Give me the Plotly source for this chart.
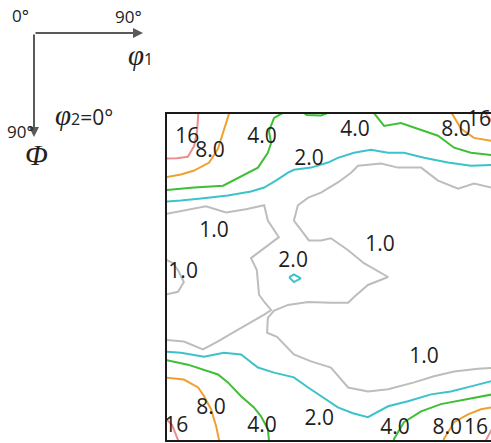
import plotly.graph_objects as go

# ODF section at phi2 = 0 deg: iso-intensity lines, (phi1, Phi) in degrees
levels = [1.0, 2.0, 4.0, 8.0, 16]
level_colors = ["#bdbdbd", "#3cc3c9", "#3fbf36", "#f0a030", "#ec8c8c"]

lvl16_top_left = [(8.6, -1.0), (8.2, 4.7), (7.4, 8.8), (5.7, 11.8), (2.7, 12.2), (-1.0, 12.3)]
lvl16_top_right = [(86.4, -0.8), (88.4, 1.9), (90.3, 3.8)]
lvl16_bottom_left = [(-1.0, 83.4), (1.4, 85.9), (3.0, 90.0), (3.2, 92.0)]
lvl16_bottom_right = [(86.8, 92.0), (87.0, 90.0), (88.6, 87.0), (90.3, 84.8)]

lvl8_top_left = [(17.2, -1.0), (15.5, 4.7), (13.9, 9.6), (11.5, 13.4), (7.4, 15.6), (3.8, 16.7), (-1.0, 17.6)]
lvl8_top_right = [(77.2, -1.0), (80.2, 4.1), (83.7, 6.6), (88.4, 7.4), (90.3, 7.7)]
lvl8_bottom_left = [(-1.0, 72.7), (4.6, 73.3), (8.5, 75.5), (10.1, 77.9), (12.0, 81.5),
                    (13.4, 86.2), (14.2, 90.0), (14.2, 92.0)]
lvl8_bottom_right = [(75.5, 92.0), (75.5, 89.7), (78.3, 85.1), (82.1, 82.9), (85.6, 81.5),
                     (88.4, 81.0), (90.3, 80.7)]

lvl4_top = [(-1.0, 21.1), (7.4, 20.3), (15.3, 19.8), (20.7, 17.0), (24.8, 14.8), (27.5, 10.7),
            (28.4, 8.0), (27.8, 4.7), (29.2, 1.1), (31.6, -0.3), (36.5, -0.8), (38.2, 0.3),
            (42.0, 0.4), (43.9, -0.3), (50.2, -0.8), (56.4, -0.3), (59.2, 3.3), (63.8, 2.5),
            (68.5, 4.1), (73.9, 6.0), (78.3, 9.3), (82.9, 10.7), (88.4, 11.3), (90.3, 11.6)]
lvl4_bottom_left = [(-1.0, 67.8), (5.7, 69.2), (13.9, 71.9), (16.6, 74.1), (20.2, 77.9),
                    (23.7, 81.0), (25.6, 83.4), (27.5, 87.0), (27.8, 90.0), (27.8, 92.0)]
lvl4_bottom_right = [(61.9, 92.0), (61.9, 89.7), (64.6, 85.1), (69.3, 82.1), (74.7, 80.1),
                     (81.0, 78.8), (88.4, 77.4), (90.3, 77.1)]

lvl2_top = [(-1.0, 24.2), (3.8, 23.9), (9.3, 23.3), (16.6, 22.5), (22.9, 21.4), (26.5, 20.3),
            (29.7, 18.4), (33.0, 16.2), (34.6, 15.4), (39.3, 14.8), (43.9, 13.4), (46.6, 12.1),
            (51.0, 10.7), (55.6, 9.9), (60.3, 10.7), (64.6, 10.7), (70.1, 12.1), (76.6, 13.4),
            (82.9, 14.3), (88.4, 14.0), (90.3, 14.0)]
lvl2_island = [(33.3, 45.1), (34.6, 44.3), (36.5, 45.4), (34.6, 46.4), (33.3, 45.1)]
lvl2_bottom = [(-1.0, 65.6), (3.8, 65.9), (10.1, 67.0), (15.5, 65.9), (20.2, 66.4), (24.8, 70.0),
               (29.2, 71.4), (34.6, 72.7), (38.5, 75.5), (42.0, 77.9), (46.6, 81.0), (50.7, 82.6),
               (54.8, 83.7), (60.3, 80.7), (65.7, 79.3), (72.0, 77.4), (77.4, 76.6), (82.9, 75.2),
               (88.4, 73.8), (90.3, 73.3)]

lvl1_left = [(-1.0, 27.7), (5.2, 26.6), (10.6, 25.5), (16.1, 27.2), (21.5, 26.3), (26.5, 25.2),
             (27.5, 29.4), (30.5, 34.0), (26.5, 37.0), (22.9, 39.8), (24.5, 43.1), (25.1, 49.9),
             (26.7, 52.1), (28.4, 54.1), (26.5, 55.4), (22.9, 57.4), (19.4, 59.5), (13.9, 62.8),
             (9.8, 65.0), (4.6, 62.8), (-1.0, 62.3)]
lvl1_edge = [(-1.0, 39.8), (1.6, 41.2), (3.0, 43.1), (4.6, 46.4), (3.0, 49.1), (-1.0, 50.0)]
lvl1_right = [(90.3, 20.3), (88.4, 20.3), (83.7, 19.2), (79.4, 20.6), (73.9, 18.4), (69.3, 14.8),
              (63.0, 14.8), (58.4, 13.7), (52.1, 14.3), (50.2, 16.2), (46.6, 18.9), (42.0, 21.7),
              (38.5, 23.1), (35.7, 25.2), (34.6, 29.4), (36.5, 32.1), (38.7, 34.9), (42.0, 34.9),
              (44.7, 34.3), (49.4, 37.6), (53.7, 41.2), (60.3, 45.0), (54.8, 47.2), (51.0, 50.5),
              (49.4, 52.1), (44.7, 52.1), (38.5, 51.9), (33.0, 52.7), (29.2, 54.3), (27.5, 56.3),
              (27.3, 60.4), (30.0, 61.5), (34.6, 66.4), (39.3, 68.3), (44.7, 70.0), (49.4, 75.5),
              (54.8, 76.6), (60.3, 76.0), (67.4, 74.1), (72.8, 72.4), (78.3, 71.1), (84.8, 70.3),
              (88.4, 70.0), (90.3, 70.0)]

contour_paths = [
    (16, lvl16_top_left), (16, lvl16_top_right), (16, lvl16_bottom_left), (16, lvl16_bottom_right),
    (8.0, lvl8_top_left), (8.0, lvl8_top_right), (8.0, lvl8_bottom_left), (8.0, lvl8_bottom_right),
    (4.0, lvl4_top), (4.0, lvl4_bottom_left), (4.0, lvl4_bottom_right),
    (2.0, lvl2_top), (2.0, lvl2_island), (2.0, lvl2_bottom),
    (1.0, lvl1_left), (1.0, lvl1_edge), (1.0, lvl1_right),
]

# contour labels: (text, phi1, Phi)
label_text = ["16", "8.0", "4.0", "2.0", "4.0", "8.0", "16",
              "1.0", "1.0", "2.0", "1.0", "1.0",
              "8.0", "16", "4.0", "2.0", "4.0", "8.0", "16"]
label_phi1 = [5.5, 11.7, 25.9, 38.7, 51.3, 78.8, 85.1,
              12.8, 4.4, 34.4, 58.1, 70.1,
              12.0, 2.5, 25.9, 41.5, 62.2, 76.4, 84.3]
label_Phi = [6.6, 10.4, 6.6, 12.6, 4.7, 4.7, 1.9,
             32.4, 43.9, 40.9, 36.5, 67.2,
             81.5, 86.4, 86.4, 84.5, 87.0, 87.0, 87.0]

color_of = dict(zip(levels, level_colors))

fig = go.Figure()
for level, path in contour_paths:
    fig.add_trace(go.Scatter(
        x=[p[0] for p in path], y=[p[1] for p in path], mode="lines",
        line=dict(color=color_of[level], width=2), hoverinfo="skip", showlegend=False))

fig.add_trace(go.Scatter(
    x=label_phi1, y=label_Phi, mode="text", text=label_text,
    textfont=dict(family="Open Sans", size=21, color="#1e1e1e"),
    hoverinfo="skip", showlegend=False, cliponaxis=False))

W, H = 491, 443
ML, MT, MB = 167, 114, 3
pw, ph = W - ML, H - MT - MB


def px(xp, yp):
    """page pixel -> paper coordinates"""
    return (xp - ML) / pw, (H - MB - yp) / ph


ann = []
arrow_c = "#5a5a5a"
hx, hy = px(143, 33)
ann.append(dict(x=hx, y=hy, xref="paper", yref="paper", ax=-109, ay=0, text="",
                showarrow=True, arrowhead=2, arrowsize=1, arrowwidth=2, arrowcolor=arrow_c))
vx, vy = px(34, 137)
ann.append(dict(x=vx, y=vy, xref="paper", yref="paper", ax=0, ay=-104, text="",
                showarrow=True, arrowhead=2, arrowsize=1, arrowwidth=2, arrowcolor=arrow_c))

sans = "Open Sans"
serif = "Liberation Serif"
for text, (cx, cy), fam, size in [
    ("0°", (20, 16), sans, 17),
    ("90°", (128, 17), sans, 17),
    ("90°", (20, 131), sans, 17),
    ("<i>φ</i><span style='font-family:Open Sans;font-size:16px'>1</span>", (140, 55), serif, 29),
    ("<i>φ</i><span style='font-family:Open Sans;font-size:16px'>2</span>"
     "<span style='font-family:Open Sans;font-size:21px'>=0°</span>", (84, 115), serif, 29),
    ("<i>Φ</i>", (36, 154), serif, 30),
]:
    x, y = px(cx, cy)
    ann.append(dict(x=x, y=y, xref="paper", yref="paper", text=text, showarrow=False,
                    xanchor="center", yanchor="middle",
                    font=dict(family=fam, size=size, color="#222222")))

fig.update_layout(
    width=W, height=H,
    margin=dict(l=ML, r=0, t=MT, b=MB, pad=0),
    paper_bgcolor="white", plot_bgcolor="white",
    annotations=ann,
    xaxis=dict(range=[0, (W - ML) / 3.667], showline=True, mirror=True, linecolor="#1a1a1a",
               linewidth=2, showgrid=False, zeroline=False, showticklabels=False, ticks=""),
    yaxis=dict(range=[90, 0], showline=True, mirror=False, linecolor="#1a1a1a",
               linewidth=2, showgrid=False, zeroline=False, showticklabels=False, ticks=""),
)

fig.write_html("out.html")
